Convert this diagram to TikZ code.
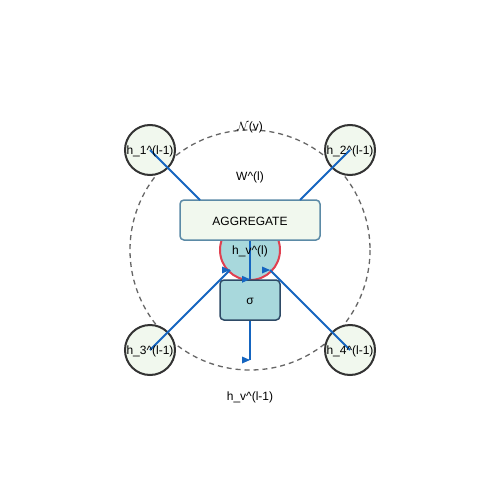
\documentclass[tikz,border=0pt]{standalone}
\usepackage{fontspec}
\setmainfont{Liberation Sans}
\usetikzlibrary{calc}
\definecolor{nbfill}{HTML}{F1F8EE}
\definecolor{tfill}{HTML}{A8D8DC}
\definecolor{tred}{HTML}{E04050}
\definecolor{aggstroke}{HTML}{5B8AA6}
\definecolor{sigstroke}{HTML}{2E4A66}
\definecolor{lblue}{HTML}{1565C0}
\definecolor{dgray}{HTML}{666666}
\definecolor{nstroke}{HTML}{333333}
\tikzset{
  every node/.style={font=\fontsize{12}{14}\selectfont, inner sep=0pt},
  nb/.style={circle, minimum size=50pt, fill=nbfill, draw=nstroke, line width=2pt},
  tgt/.style={circle, minimum size=60pt, fill=tfill, draw=tred, line width=2pt},
  aggbox/.style={rectangle, rounded corners=4pt, minimum width=140pt, minimum height=40pt, fill=nbfill, draw=aggstroke, line width=1.5pt},
  sigbox/.style={rectangle, rounded corners=4pt, minimum width=60pt, minimum height=40pt, fill=tfill, draw=sigstroke, line width=1.5pt},
  conn/.style={draw=lblue, line width=2pt},
  lbl/.style={text=black},
}
\newcommand{\tipmark}[1]{\fill[lblue] (#1) -- ++(-8,-3.5) -- ++(0,7) -- cycle;}
\begin{document}
\begin{tikzpicture}[x=1pt,y=-1pt]
\useasboundingbox (0,0) rectangle (500,500);
\fill[white] (0,0) rectangle (500,500);
% neighbourhood
\draw[dgray, line width=1.3pt, dash pattern=on 5pt off 4pt] (250,250) circle (120);
\node[lbl] (nv) at (250,127) {$\mathcal{N}$(v)};
% neighbours
\node[nb] (h1) at (150,150) {};
\node[nb] (h2) at (350,150) {};
\node[nb] (h3) at (150,350) {};
\node[nb] (h4) at (350,350) {};
% target
\node[tgt] (tv) at (250,250) {};
% boxes
\node[aggbox] (agg) at (250,220) {};
\node[sigbox] (sig) at (250,300) {};
% coordinates
\coordinate (a1) at (200,200);
\coordinate (a2) at (300,200);
\coordinate (e3) at (230,270);
\coordinate (e4) at (270,270);
\coordinate (out) at (250,360);
% connectors
\draw[conn] (h1.center) -- (a1);
\draw[conn] (h2.center) -- (a2);
\draw[conn] (h3.center) -- (e3);
\draw[conn] (h4.center) -- (e4);
\draw[conn] (agg.south) -- (sig.north);
\draw[conn] (sig.south) -- (out);
\tipmark{e3}
\tipmark{e4}
\tipmark{sig.north}
\tipmark{out}
% labels
\node[lbl] at ($(h1)+(0,1)$) {h\_1\^{}(l-1)};
\node[lbl] at ($(h2)+(0,1)$) {h\_2\^{}(l-1)};
\node[lbl] at ($(h3)+(0,1)$) {h\_3\^{}(l-1)};
\node[lbl] at ($(h4)+(0,1)$) {h\_4\^{}(l-1)};
\node[lbl] at ($(tv)+(0,1)$) {h\_v\^{}(l)};
\node[lbl] at ($(agg)+(0,1)$) {AGGREGATE};
\node[lbl] at ($(sig)+(0,1)$) {σ};
\node[lbl] (wl) at (250,177) {W\^{}(l)};
\node[lbl] (hin) at (250,397) {h\_v\^{}(l-1)};
\end{tikzpicture}
\end{document}
